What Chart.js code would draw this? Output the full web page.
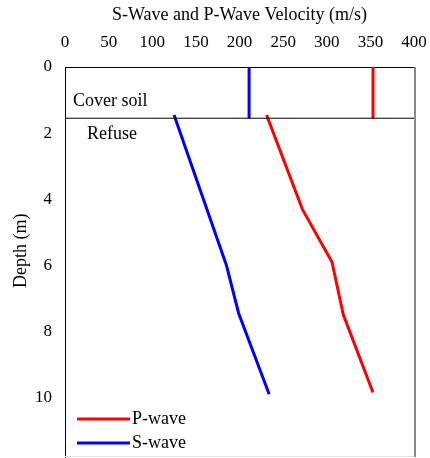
<!DOCTYPE html>
<html>
<head>
<meta charset="utf-8">
<script src="https://cdn.jsdelivr.net/npm/chart.js@4/dist/chart.umd.min.js"></script>
<style>
html,body{margin:0;padding:0;background:#fff;}
canvas{display:block;}
</style>
</head>
<body>
<canvas id="c" width="430" height="458"></canvas>
<script>
// ---- data ----
const xTickValues = [0, 50, 100, 150, 200, 250, 300, 350, 400];
const yTickValues = [0, 2, 4, 6, 8, 10];

const sWaveDepth = [1.45, 6.0, 7.45, 9.9];
const sWaveVel   = [125, 185, 199, 234];

const pWaveDepth = [1.45, 4.3, 5.9, 7.5, 9.85];
const pWaveVel   = [231, 272, 306, 319, 353];

const coverDepth = [0, 1.55];
const coverSVel  = [211, 211];
const coverPVel  = [353, 353];

const boundaryDepth = [1.55, 1.55];
const boundaryVel   = [0, 400];

const layerLabels = ['Cover soil', 'Refuse'];
const seriesNames = ['P-wave', 'S-wave'];
const seriesColors = ['#ff0000', '#0000ff'];

const pts = (xs, ys) => xs.map((x, i) => ({x: x, y: ys[i]}));
const FONT = '"Liberation Serif", "Times New Roman", serif';

const overlay = {
  id: 'overlay',
  afterDatasetsDraw(chart) {
    const {ctx, chartArea: a} = chart;
    ctx.save();
    // right & bottom frame
    ctx.strokeStyle = '#8a8a8a';
    ctx.lineWidth = 2;
    ctx.beginPath();
    ctx.moveTo(a.right + 1, a.top);
    ctx.lineTo(a.right + 1, a.bottom);
    ctx.stroke();
    ctx.strokeStyle = '#e4e4e4';
    ctx.lineWidth = 1;
    ctx.beginPath();
    ctx.moveTo(a.left, a.bottom - 0.5);
    ctx.lineTo(a.right, a.bottom - 0.5);
    ctx.stroke();
    // layer labels
    ctx.fillStyle = '#000';
    ctx.font = '18px ' + FONT;
    ctx.textBaseline = 'middle';
    ctx.textAlign = 'left';
    ctx.fillText(layerLabels[0], a.left + 8, 101);
    ctx.fillText(layerLabels[1], a.left + 22, 134);
    // legend
    const ly = [a.bottom - 38, a.bottom - 14];
    for (let i = 0; i < 2; i++) {
      ctx.strokeStyle = seriesColors[i];
      ctx.lineWidth = 3;
      ctx.beginPath();
      ctx.moveTo(a.left + 12, ly[i]);
      ctx.lineTo(a.left + 65, ly[i]);
      ctx.stroke();
      ctx.fillStyle = '#000';
      ctx.fillText(seriesNames[i], a.left + 67, ly[i]);
    }
    ctx.restore();
  }
};

new Chart(document.getElementById('c'), {
  type: 'scatter',
  data: {
    datasets: [
      {label: 'boundary', data: pts(boundaryVel, boundaryDepth), borderColor: '#000', borderWidth: 1, showLine: true, pointRadius: 0},
      {label: 'S cover', data: pts(coverSVel, coverDepth), borderColor: seriesColors[1], borderWidth: 3, showLine: true, pointRadius: 0},
      {label: 'P cover', data: pts(coverPVel, coverDepth), borderColor: seriesColors[0], borderWidth: 3, showLine: true, pointRadius: 0},
      {label: 'S-wave', data: pts(sWaveVel, sWaveDepth), borderColor: seriesColors[1], borderWidth: 3, showLine: true, pointRadius: 0},
      {label: 'P-wave', data: pts(pWaveVel, pWaveDepth), borderColor: seriesColors[0], borderWidth: 3, showLine: true, pointRadius: 0}
    ]
  },
  options: {
    responsive: false,
    animation: false,
    devicePixelRatio: 1,
    layout: {padding: {left: 0, right: 16, top: 0, bottom: 1}},
    plugins: {legend: {display: false}, tooltip: {enabled: false}},
    scales: {
      x: {
        type: 'linear', position: 'top', min: 0, max: 400,
        afterBuildTicks: s => { s.ticks = xTickValues.map(v => ({value: v})); },
        afterFit: s => { s.height = 67; s.paddingLeft = 0; s.paddingRight = 0; },
        grid: {display: false, drawTicks: false},
        border: {display: true, color: '#000', width: 1},
        ticks: {color: '#000', padding: 14, font: {family: FONT, size: 17}, maxRotation: 0, autoSkip: false},
        title: {display: true, text: 'S-Wave and P-Wave Velocity (m/s)', color: '#000', font: {family: FONT, size: 18}, padding: {top: 4, bottom: 0}}
      },
      y: {
        type: 'linear', reverse: true, min: 0, max: 11.8,
        afterBuildTicks: s => { s.ticks = yTickValues.map(v => ({value: v})); },
        afterFit: s => { s.width = 65; s.paddingTop = 0; s.paddingBottom = 0; },
        grid: {display: false, drawTicks: false},
        border: {display: true, color: '#000', width: 1},
        ticks: {color: '#000', padding: 13, font: {family: FONT, size: 17}, autoSkip: false},
        title: {display: true, text: '     Depth (m)', color: '#000', font: {family: FONT, size: 18}, padding: {top: 10, bottom: 0}}
      }
    }
  },
  plugins: [overlay]
});
</script>
</body>
</html>
